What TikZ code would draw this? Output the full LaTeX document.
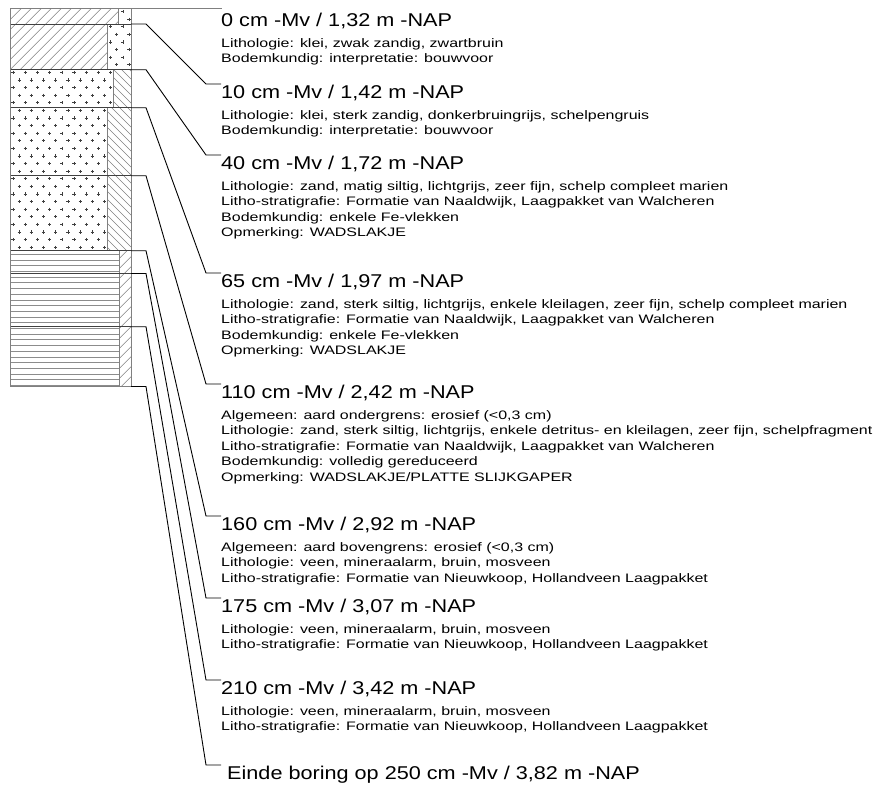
\documentclass[tikz,border=0pt]{standalone}
\usepackage{fontspec}
\setmainfont{Liberation Sans}
\newfontfamily\wfont[FakeStretch=1.3]{Liberation Sans}
\newfontfamily\hfont[FakeStretch=1.17]{Liberation Sans}
\usetikzlibrary{calc}
\definecolor{colgray}{HTML}{808080}
\definecolor{bndgray}{HTML}{404040}
\definecolor{peatgray}{HTML}{8C8C8C}
\tikzset{
  hdr/.style={anchor=base west, inner sep=0pt, font=\fontsize{18.5}{20}\selectfont\hfont},
  txt/.style={anchor=base west, inner sep=0pt, font=\fontsize{12.3}{14}\selectfont\wfont},
  leader/.style={draw=black, line width=0.9pt},
  topline/.style={draw=colgray, line width=0.9pt},
  outline/.style={draw=colgray, line width=0.9pt},
  bnd/.style={draw=bndgray, line width=0.9pt},
  divl/.style={draw=colgray, line width=0.8pt},
  hatch/.style={draw=colgray, line width=0.6pt},
  plusmark/.style={draw=bndgray, line width=0.55pt},
  peatline/.style={draw=peatgray, line width=0.9pt}
}
\begin{document}
\begin{tikzpicture}[x=1pt,y=-1pt]
\useasboundingbox (0,0) rectangle (875,785);
\def\yA{8}\def\yB{24}\def\yC{69.7}\def\yD{107.7}\def\yE{175.7}
\def\yF{250.7}\def\yG{273.5}\def\yH{326.7}\def\yI{386.5}
% ---- clay hatch
\begin{scope}
  \clip (10,\yA) rectangle (118,\yB) (10,\yB) rectangle (107,\yC);
  \foreach \k in {0,...,20} \draw[hatch] (\k*10-72, \yC+2) -- ++(80,-80);
\end{scope}
% ---- sand plus marks
\begin{scope}
  \clip (118,\yA) rectangle (131,\yB) (107,\yB) rectangle (131,\yC)
        (10,\yC) rectangle (113,\yD) (10,\yD) rectangle (107,\yF);
  \foreach \j in {0,...,32}{
    \foreach \i in {0,...,10}{
      \pgfmathsetmacro\px{13+12.2*\i+6.1*mod(\j,2)}
      \pgfmathsetmacro\py{11.5+7.6*\j}
      \draw[plusmark] (\px-1.6,\py) -- (\px+1.6,\py) (\px,\py-1.6) -- (\px,\py+1.6);
    }
  }
\end{scope}
% ---- silt strips
\begin{scope}
  \clip (113,\yC) rectangle (131,\yD) (107,\yD) rectangle (131,\yF);
  \foreach \k in {-4,...,28} \draw[hatch] (100, 40+8*\k) -- ++(40,40);
\end{scope}
% ---- peat
\begin{scope}
  \clip (10,\yF) rectangle (119,\yI);
  \foreach \k in {0,...,24}{
    \pgfmathsetmacro\py{\yF+3.7+5.7*\k}
    \draw[peatline] (10,\py) -- (119,\py);
  }
\end{scope}
\begin{scope}
  \clip (119,\yF) rectangle (131,\yI);
  \foreach \k in {0,...,15} \draw[hatch] (117, \yF+10*\k) -- ++(16,-16);
\end{scope}
% ---- column lines
\draw[divl] (118,\yA) -- (118,\yB) (107,\yB) -- (107,\yC) (113,\yC) -- (113,\yD)
            (107,\yD) -- (107,\yF) (119,\yF) -- (119,\yI);
\foreach \yy in {\yB,\yC,\yD,\yE,\yF,\yG,\yH}
  \draw[bnd] (10,\yy) -- (131,\yy);
\draw[outline] (10,\yA) rectangle (131,\yI);
% ---- boundary points
\coordinate (b0) at (131,\yA);
\coordinate (b10) at (131,\yB);
\coordinate (b40) at (131,\yC);
\coordinate (b65) at (131,\yD);
\coordinate (b110) at (131,\yE);
\coordinate (b160) at (131,\yF);
\coordinate (b175) at (131,\yG);
\coordinate (b210) at (131,\yH);
\coordinate (b250) at (131,\yI);
% ---- leader ends
\coordinate (e0) at (222,8);
\coordinate (e10) at (221,84);
\coordinate (e40) at (221,155);
\coordinate (e65) at (221,273);
\coordinate (e110) at (221,384);
\coordinate (e160) at (221,516);
\coordinate (e175) at (221,598);
\coordinate (e210) at (221,680);
\coordinate (e250) at (221,765);
% ---- leaders
\draw[topline] (b0) -- (e0);
\foreach \n in {10,40,65,110,160,175,210,250}
  \draw[leader] (b\n) -- ++(15,0) -- ($(e\n)+(-15,0)$) -- (e\n);
% ---- texts
\node[hdr] (h0) at (221,26.5) {0 cm -Mv / 1,32 m -NAP};
\node[txt] (t0a) at (221,47) {Lithologie: klei, zwak zandig, zwartbruin};
\node[txt] (t0b) at (221,62.6) {Bodemkundig: interpretatie: bouwvoor};

\node[hdr] (h10) at (221,98.5) {10 cm -Mv / 1,42 m -NAP};
\node[txt] (t10a) at (221,119) {Lithologie: klei, sterk zandig, donkerbruingrijs, schelpengruis};
\node[txt] (t10b) at (221,134.6) {Bodemkundig: interpretatie: bouwvoor};

\node[hdr] (h40) at (221,169.5) {40 cm -Mv / 1,72 m -NAP};
\node[txt] (t40a) at (221,190) {Lithologie: zand, matig siltig, lichtgrijs, zeer fijn, schelp compleet marien};
\node[txt] (t40b) at (221,205.6) {Litho-stratigrafie: Formatie van Naaldwijk, Laagpakket van Walcheren};
\node[txt] (t40c) at (221,221.2) {Bodemkundig: enkele Fe-vlekken};
\node[txt] (t40d) at (221,236.8) {Opmerking: WADSLAKJE};

\node[hdr] (h65) at (221,287.5) {65 cm -Mv / 1,97 m -NAP};
\node[txt] (t65a) at (221,308) {Lithologie: zand, sterk siltig, lichtgrijs, enkele kleilagen, zeer fijn, schelp compleet marien};
\node[txt] (t65b) at (221,323.6) {Litho-stratigrafie: Formatie van Naaldwijk, Laagpakket van Walcheren};
\node[txt] (t65c) at (221,339.2) {Bodemkundig: enkele Fe-vlekken};
\node[txt] (t65d) at (221,354.8) {Opmerking: WADSLAKJE};

\node[hdr] (h110) at (221,398.5) {110 cm -Mv / 2,42 m -NAP};
\node[txt] (t110a) at (221,419) {Algemeen: aard ondergrens: erosief (<0,3 cm)};
\node[txt] (t110b) at (221,434.6) {Lithologie: zand, sterk siltig, lichtgrijs, enkele detritus- en kleilagen, zeer fijn, schelpfragment};
\node[txt] (t110c) at (221,450.2) {Litho-stratigrafie: Formatie van Naaldwijk, Laagpakket van Walcheren};
\node[txt] (t110d) at (221,465.8) {Bodemkundig: volledig gereduceerd};
\node[txt] (t110e) at (221,481.4) {Opmerking: WADSLAKJE/PLATTE SLIJKGAPER};

\node[hdr] (h160) at (221,530.5) {160 cm -Mv / 2,92 m -NAP};
\node[txt] (t160a) at (221,551) {Algemeen: aard bovengrens: erosief (<0,3 cm)};
\node[txt] (t160b) at (221,566.6) {Lithologie: veen, mineraalarm, bruin, mosveen};
\node[txt] (t160c) at (221,582.2) {Litho-stratigrafie: Formatie van Nieuwkoop, Hollandveen Laagpakket};

\node[hdr] (h175) at (221,612.5) {175 cm -Mv / 3,07 m -NAP};
\node[txt] (t175a) at (221,633) {Lithologie: veen, mineraalarm, bruin, mosveen};
\node[txt] (t175b) at (221,648.6) {Litho-stratigrafie: Formatie van Nieuwkoop, Hollandveen Laagpakket};

\node[hdr] (h210) at (221,694.5) {210 cm -Mv / 3,42 m -NAP};
\node[txt] (t210a) at (221,715) {Lithologie: veen, mineraalarm, bruin, mosveen};
\node[txt] (t210b) at (221,730.6) {Litho-stratigrafie: Formatie van Nieuwkoop, Hollandveen Laagpakket};

\node[hdr] (h250) at (227,779) {Einde boring op 250 cm -Mv / 3,82 m -NAP};
\end{tikzpicture}
\end{document}
